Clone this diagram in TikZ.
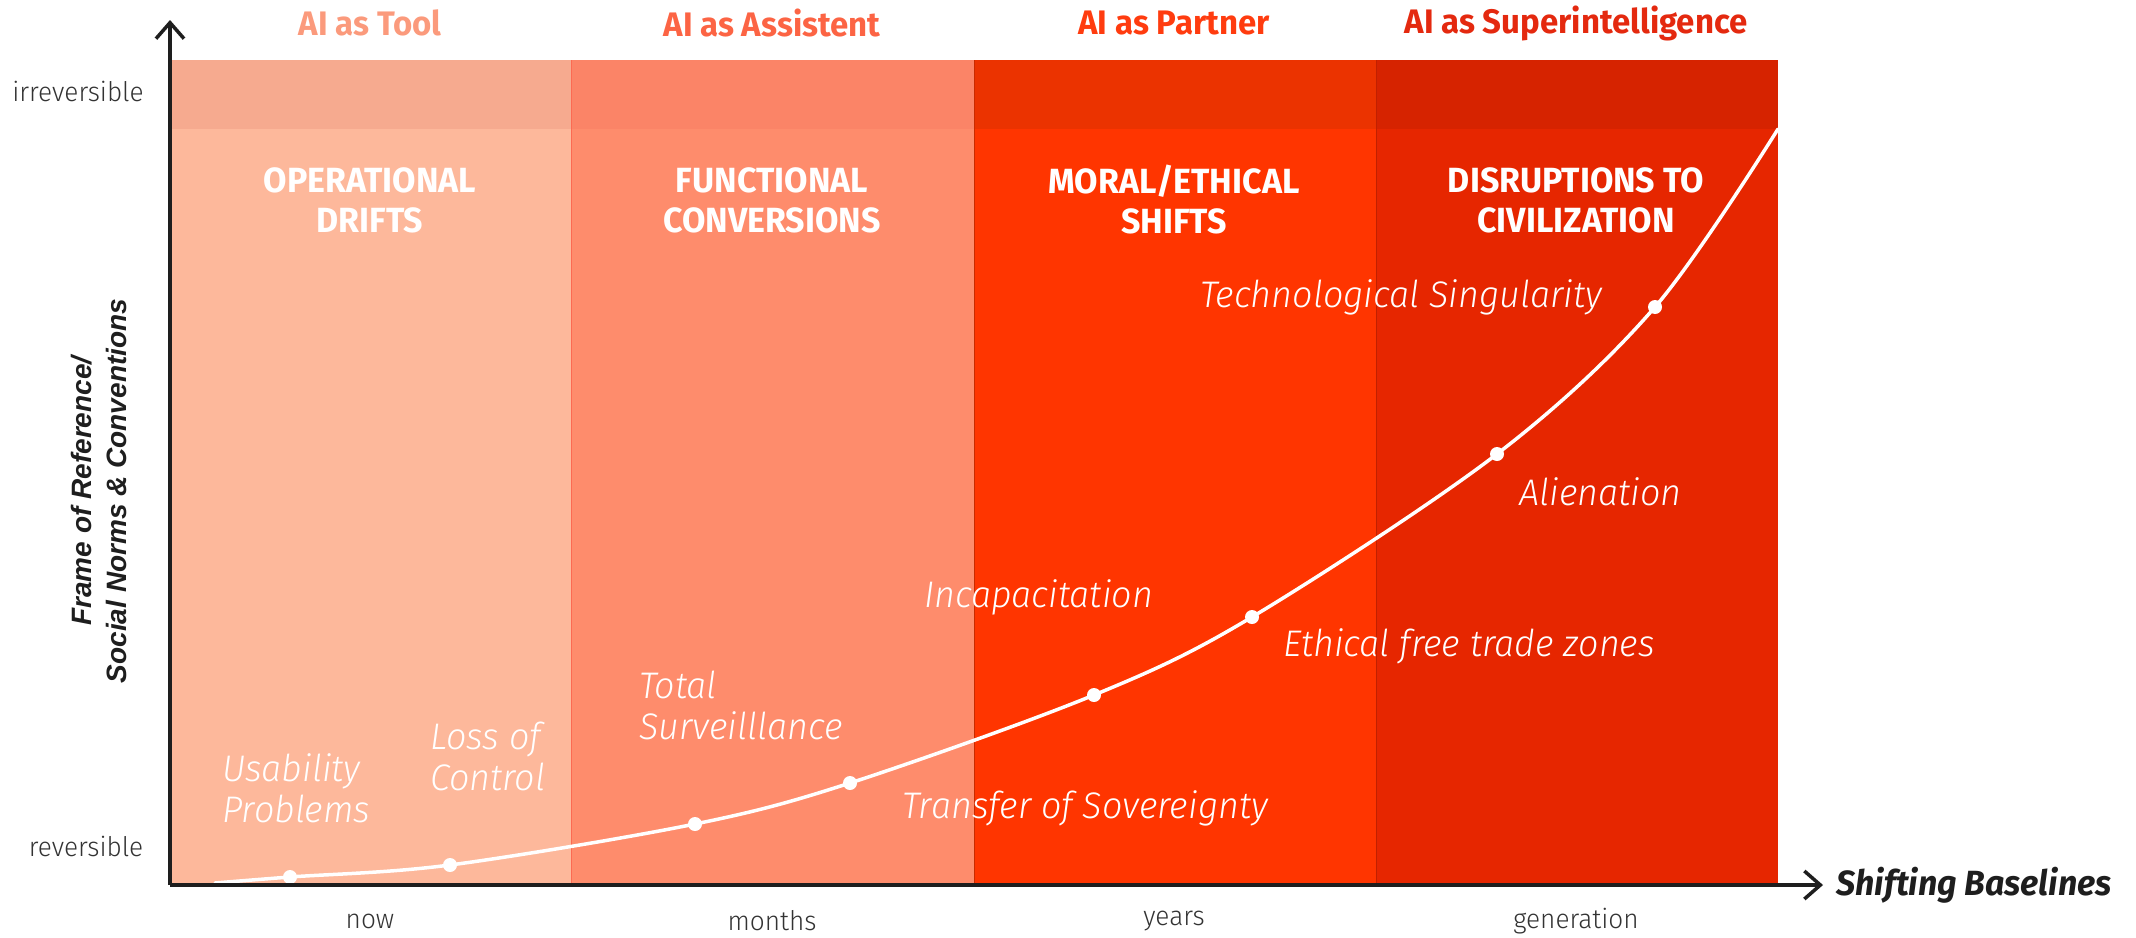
\documentclass[tikz,border=0pt]{standalone}
\usepackage{fontspec}
\setmainfont{Fira Sans}
\newfontfamily\condfont{Fira Sans}[FakeStretch=0.97]
\newfontfamily\lightfont{Fira Sans}[FakeStretch=0.97, UprightFont={* Light}, ItalicFont={* Light Italic}]
\newfontfamily\helvfont{Liberation Sans}
\usetikzlibrary{arrows.meta}
\definecolor{c1}{HTML}{FDB89B}
\definecolor{c1t}{HTML}{F6AA8F}
\definecolor{c2}{HTML}{FE8C6C}
\definecolor{c2t}{HTML}{FB8467}
\definecolor{c3}{HTML}{FF3500}
\definecolor{c3t}{HTML}{EB3300}
\definecolor{c4}{HTML}{E62600}
\definecolor{c4t}{HTML}{D62300}
\definecolor{t1}{HTML}{FB9A7C}
\definecolor{t2}{HTML}{FC6444}
\definecolor{t3}{HTML}{FF3C0F}
\definecolor{t4}{HTML}{E4290F}
\definecolor{axis}{HTML}{1E1E1E}
\definecolor{ticktext}{HTML}{333333}
\tikzset{
  coltitle/.style={font=\condfont\bfseries\fontsize{34}{36}\selectfont, anchor=center},
  colhead/.style={font=\condfont\bfseries\fontsize{35}{40}\selectfont, text=white, align=center, anchor=center},
  curvelabel/.style={font=\lightfont\itshape\fontsize{37}{41}\selectfont, text=white, align=left, anchor=west, inner sep=0pt},
  sidelabel/.style={font=\lightfont\fontsize{27}{30}\selectfont, text=ticktext, anchor=center},
  ticklabel/.style={font=\lightfont\fontsize{27}{30}\selectfont, text=ticktext, anchor=center},
  dot/.style={circle, fill=white, inner sep=0pt, minimum size=14pt},
  axisline/.style={draw=axis, line width=4pt, -{Straight Barb[length=16pt,width=28pt,line width=3.5pt]}}
}
\begin{document}
\begin{tikzpicture}[x=1pt,y=-1pt]
\useasboundingbox (0,0) rectangle (2136,937);
% columns
\fill[c1] (170,129) rectangle (571,883);
\fill[c1t] (170,60) rectangle (571,129);
\fill[c2] (571,129) rectangle (974,883);
\fill[c2t] (571,60) rectangle (974,129);
\fill[c3] (974,129) rectangle (1376,883);
\fill[c3t] (974,60) rectangle (1376,129);
\fill[c4] (1376,129) rectangle (1778,883);
\fill[c4t] (1376,60) rectangle (1778,129);
\draw[c2t!80!red, line width=0.6pt] (571,60) -- (571,883);
\draw[c3t!85!black, line width=0.6pt] (974,60) -- (974,883);
\draw[c4t!90!black, line width=0.6pt] (1376,60) -- (1376,883);
% titles
\node[coltitle, text=t1] (tt1) at (370,23) {AI as Tool};
\node[coltitle, text=t2] (tt2) at (772,23) {AI as Assistent};
\node[coltitle, text=t3] (tt3) at (1174,23) {AI as Partner};
\node[coltitle, text=t4] (tt4) at (1576,23) {AI as Superintelligence};
% headings
\node[colhead] (h1) at (370,200) {OPERATIONAL\\DRIFTS};
\node[colhead] (h2) at (772,200) {FUNCTIONAL\\CONVERSIONS};
\node[colhead] (h3) at (1174,200) {MORAL/ETHICAL\\SHIFTS};
\node[colhead] (h4) at (1576,200) {DISRUPTIONS TO\\CIVILIZATION};
% curve
\coordinate (p0) at (215,883);
\node[dot] (d1) at (290,877) {};
\node[dot] (d2) at (450,865) {};
\node[dot] (d3) at (695,824) {};
\node[dot] (d4) at (850,783) {};
\node[dot] (d5) at (1094,695) {};
\node[dot] (d6) at (1252,617) {};
\node[dot] (d7) at (1497,454) {};
\node[dot] (d8) at (1655,307) {};
\coordinate (pe) at (1778,129);
\draw[white, line width=3.5pt, line cap=round] plot[smooth, tension=0.55] coordinates {(p0) (d1.center) (d2.center) (d3.center) (d4.center) (d5.center) (d6.center) (d7.center) (d8.center) (pe)};
% curve labels
\node[curvelabel] (l1) at (222,788) {Usability\\Problems};
\node[curvelabel] (l2) at (430,756) {Loss of\\Control};
\node[curvelabel] (l3) at (639,705) {Total\\Surveilllance};
\node[curvelabel] (l4) at (902,808) {Transfer of Sovereignty};
\node[curvelabel] (l5) at (924,597) {Incapacitation};
\node[curvelabel] (l6) at (1283,646) {Ethical free trade zones};
\node[curvelabel] (l7) at (1519,492) {Alienation};
\node[curvelabel] (l8) at (1200,297) {Technological Singularity};
% axes
\coordinate (o) at (170,885);
\coordinate (ytip) at (170,20);
\coordinate (xtip) at (1823,885);
\draw[axisline] (o) -- (ytip);
\draw[axisline] (o) -- (xtip);
% axis labels
\node[sidelabel] (irr) at (78,91) {irreversible};
\node[sidelabel] (rev) at (86,846) {reversible};
\node[ticklabel] (b1) at (370,921) {now};
\node[ticklabel] (b2) at (772,921) {months};
\node[ticklabel] (b3) at (1174,921) {years};
\node[ticklabel] (b4) at (1576,921) {generation};
\node[font=\condfont\bfseries\itshape\fontsize{35}{36}\selectfont, text=axis, anchor=west] (xl) at (1833,885) {Shifting Baselines};
\node[font=\helvfont\bfseries\itshape\fontsize{28}{35}\selectfont, text=axis, align=center, rotate=90] (yl) at (99,491) {Frame of Reference/\\Social Norms \& Conventions};
\end{tikzpicture}
\end{document}
